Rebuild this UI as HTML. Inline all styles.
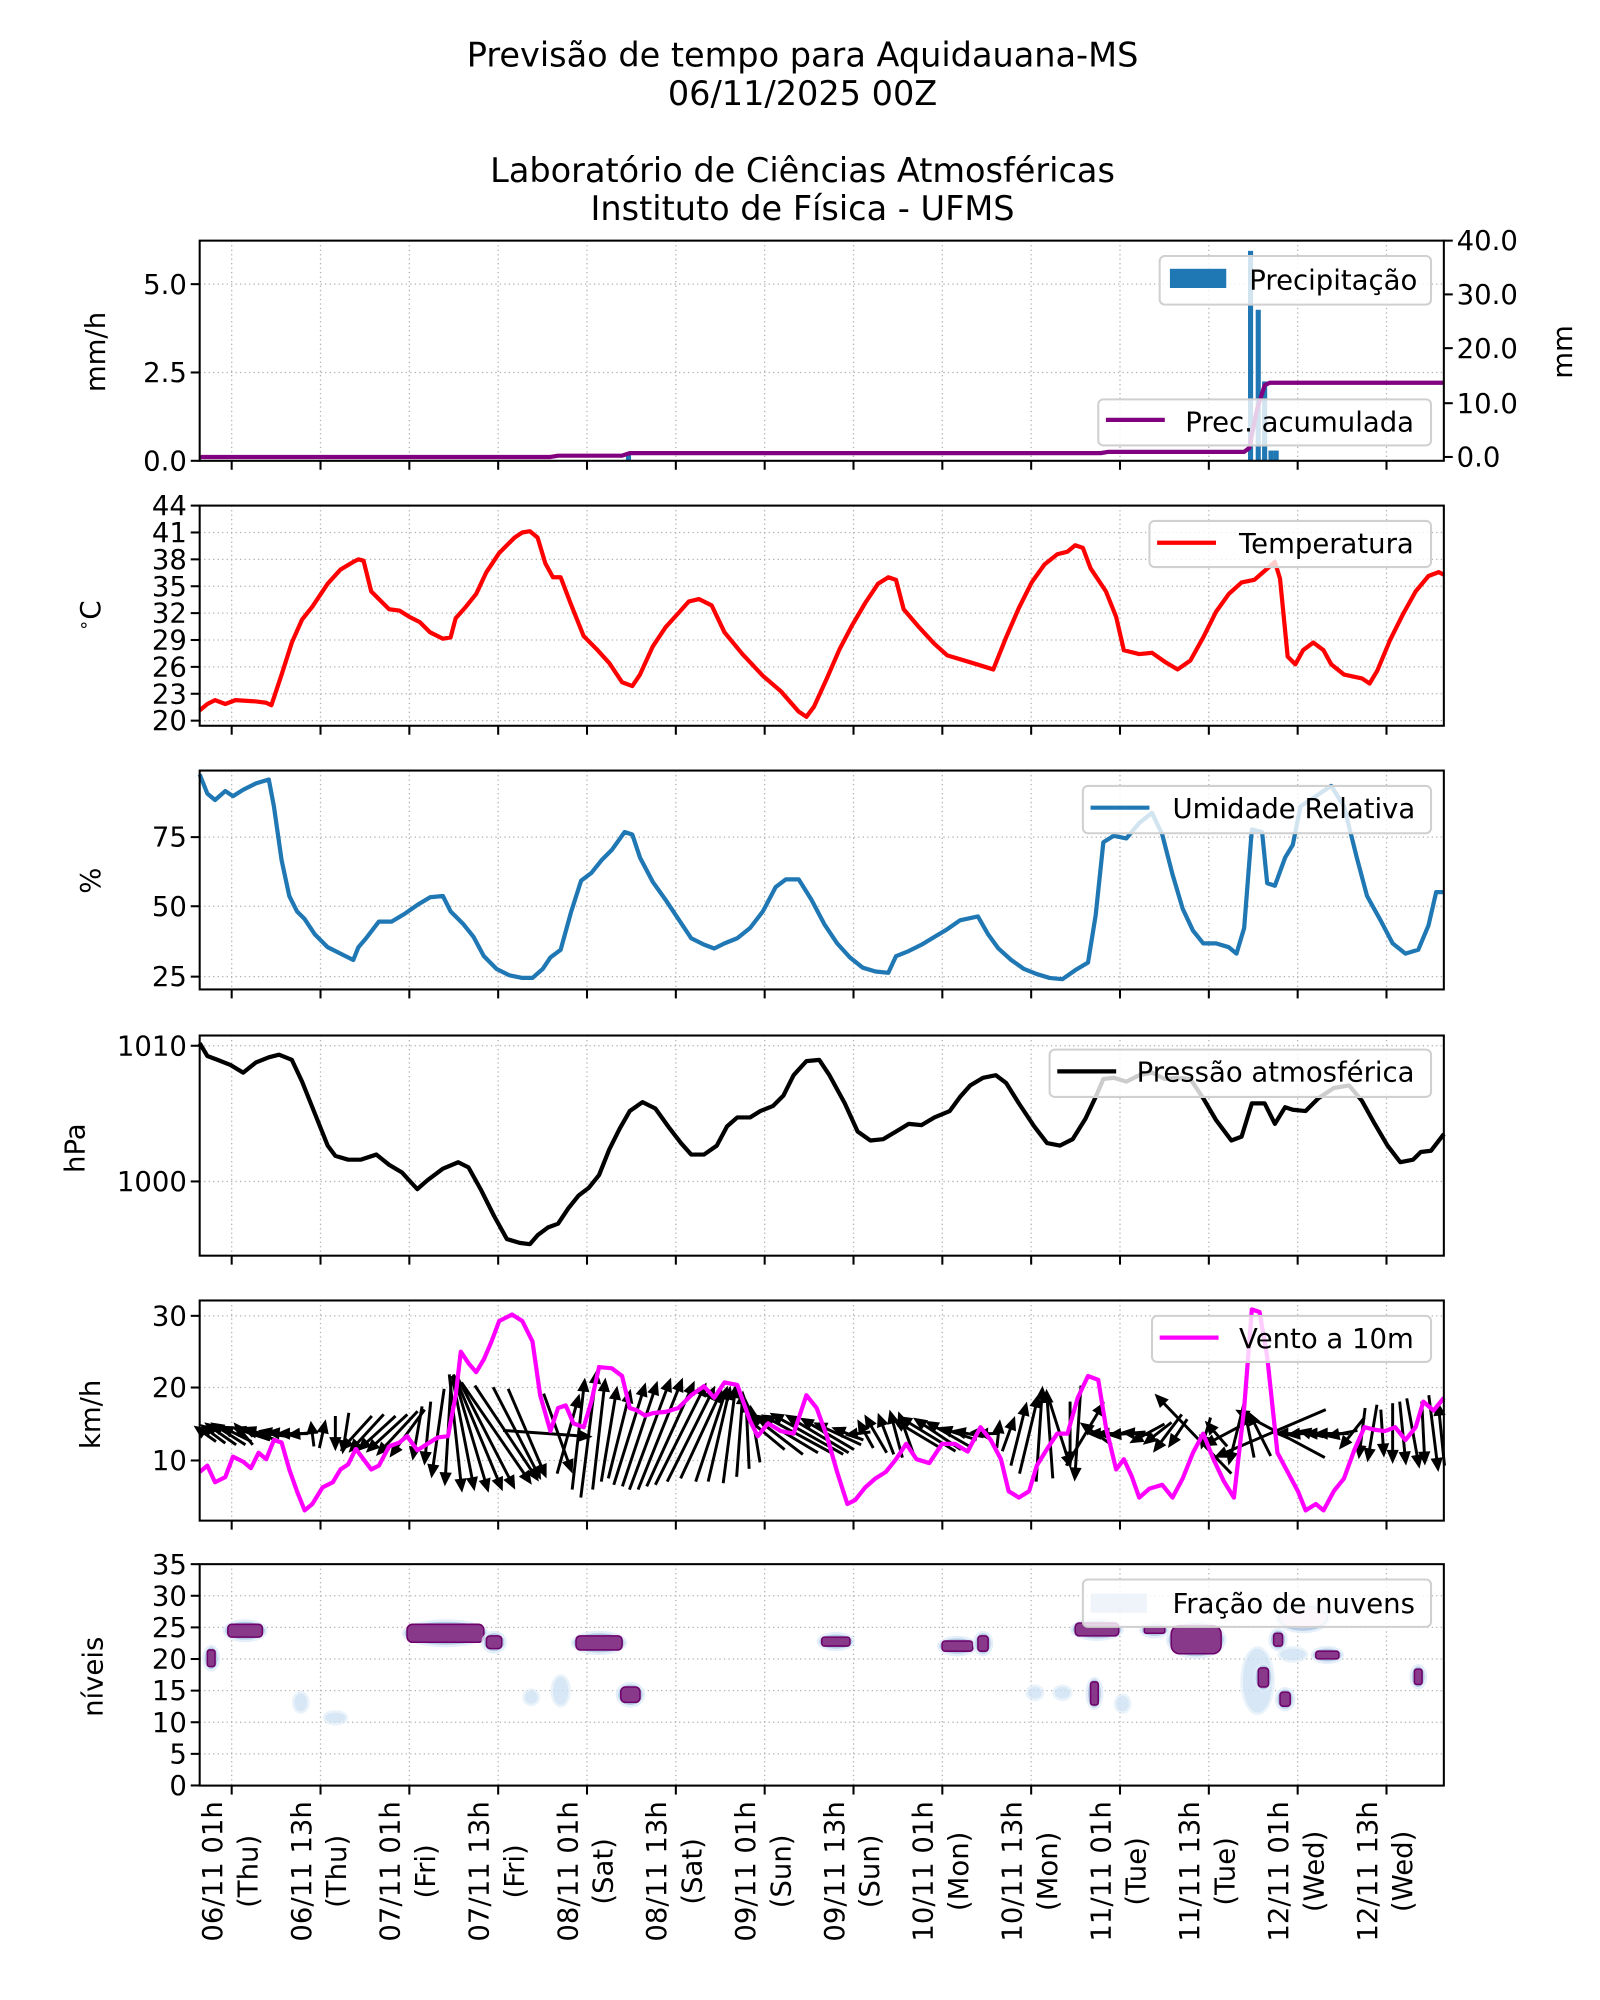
<!DOCTYPE html>
<html><head><meta charset="utf-8"><style>
html,body{margin:0;padding:0;background:#fff}
svg{display:block}
text{font-family:"DejaVu Sans","Liberation Sans",sans-serif;fill:#000}
</style></head><body>
<svg id="s" xmlns="http://www.w3.org/2000/svg" width="1600" height="2000" viewBox="0 0 1250 1562.5">
<rect width="1250" height="1562.5" fill="#fff"/>
<g font-size="26.2" text-anchor="middle">
<text x="627" y="52">Previsão de tempo para Aquidauana-MS</text>
<text x="627" y="82">06/11/2025 00Z</text>
<text x="627" y="142">Laboratório de Ciências Atmosféricas</text>
<text x="627" y="172">Instituto de Física - UFMS</text>
</g>
<g id="grid"></g>
<g id="data"></g>
<g id="axes"></g>
<g id="leg"></g>
<g font-size="21.5" id="lab">
<text transform="translate(82,275) rotate(-90)" text-anchor="middle">mm/h</text>
<text transform="translate(1228,275) rotate(-90)" text-anchor="middle">mm</text>
<text transform="translate(78,481) rotate(-90)" text-anchor="middle"><tspan font-size="14" dy="-8">∘</tspan><tspan dy="8">C</tspan></text>
<text transform="translate(78,688) rotate(-90)" text-anchor="middle">%</text>
<text transform="translate(66,897) rotate(-90)" text-anchor="middle">hPa</text>
<text transform="translate(78,1105) rotate(-90)" text-anchor="middle">km/h</text>
<text transform="translate(80,1310) rotate(-90)" text-anchor="middle">níveis</text>
</g>
<g font-size="21.5" id="xl"></g>
</svg>
<script>
const NS="http://www.w3.org/2000/svg";
function el(p,t,a,txt){const e=document.createElementNS(NS,t);for(const k in a)e.setAttribute(k,a[k]);if(txt!==undefined)e.textContent=txt;document.getElementById(p).appendChild(e);return e;}
const L=156,R=1128;
const panels=[[188,360],[395,567],[602,773],[809,981],[1016,1188],[1222,1395]];
const xt=[];for(let k=0;k<14;k++)xt.push(181+69.4*k);
const yt=[
 [[222,"5.0"],[291,"2.5"],[360,"0.0"]],
 [44,41,38,35,32,29,26,23,20].map(v=>[395+(44-v)*7,""+v]),
 [[654,"75"],[708,"50"],[763,"25"]],
 [[817,"1010"],[923,"1000"]],
 [[1028,"30"],[1084,"20"],[1141,"10"]],
 [35,30,25,20,15,10,5,0].map(v=>[1222+(35-v)*4.94,""+v])
];
panels.forEach((p,i)=>{
 xt.forEach(x=>{el("grid","line",{x1:x,x2:x,y1:p[0],y2:p[1],stroke:"#b0b0b0","stroke-width":1,"stroke-dasharray":"1,2.5"});
   el("axes","line",{x1:x,x2:x,y1:p[1],y2:p[1]+7,stroke:"#000","stroke-width":1.6});});
 yt[i].forEach(t=>{el("grid","line",{x1:L,x2:R,y1:t[0],y2:t[0],stroke:"#b0b0b0","stroke-width":1,"stroke-dasharray":"1,2.5"});
   el("axes","line",{x1:L-7,x2:L,y1:t[0],y2:t[0],stroke:"#000","stroke-width":1.6});
   el("axes","text",{x:L-10,y:t[0]+7.5,"text-anchor":"end","font-size":"21.5"},t[1]);});
 el("axes","rect",{x:L,y:p[0],width:R-L,height:p[1]-p[0],fill:"none",stroke:"#000","stroke-width":1.6});
});
[[357,"0.0"],[315,"10.0"],[272,"20.0"],[230,"30.0"],[188,"40.0"]].forEach(t=>{
 el("axes","line",{x1:R,x2:R+7,y1:t[0],y2:t[0],stroke:"#000","stroke-width":1.6});
 el("axes","text",{x:R+10,y:t[0]+7.5,"font-size":"21.5"},t[1]);});
const lb=[["06/11 01h","(Thu)"],["06/11 13h","(Thu)"],["07/11 01h","(Fri)"],["07/11 13h","(Fri)"],["08/11 01h","(Sat)"],["08/11 13h","(Sat)"],["09/11 01h","(Sun)"],["09/11 13h","(Sun)"],["10/11 01h","(Mon)"],["10/11 13h","(Mon)"],["11/11 01h","(Tue)"],["11/11 13h","(Tue)"],["12/11 01h","(Wed)"],["12/11 13h","(Wed)"]];
xt.forEach((x,k)=>{
 el("xl","text",{transform:`translate(${x-7.5},1462) rotate(-90)`,"text-anchor":"middle"},lb[k][0]);
 el("xl","text",{transform:`translate(${x+20},1462) rotate(-90)`,"text-anchor":"middle"},lb[k][1]);
});
function line(pts,c,w){el("data","polyline",{points:pts.map(p=>p.join(",")).join(" "),fill:"none",stroke:c,"stroke-width":w||3.3,"stroke-linejoin":"round"});}
[[491,355],[977,196],[983,242],[988,298],[993,352],[997,352]].forEach(b=>el("data","rect",{x:b[0]-2,y:b[1],width:4,height:360-b[1],fill:"#1f77b4"}));
line([[156,357],[430,357],[436,356],[486,356],[492,354],[860,354],[866,353],[972,353],[976,350],[982,320],[988,301],[992,299],[1128,299]],"#800080");
line([[156,555],[162,550],[168,547],[176,550],[184,547],[200,548],[208,549],[212,551],[220,527],[228,502],[236,484],[244,474],[256,456],[266,445],[276,439],[280,437],[284,438],[290,462],[298,470],[304,476],[312,477],[320,482],[328,486],[336,494],[346,499],[352,498],[356,483],[364,474],[372,464],[380,447],[390,432],[402,420],[408,416],[414,415],[420,420],[426,440],[432,451],[438,451],[446,472],[456,497],[466,507],[476,518],[486,533],[494,536],[500,527],[510,505],[520,490],[530,479],[538,470],[546,468],[556,473],[566,494],[580,511],[596,528],[610,540],[624,556],[630,560],[636,552],[646,530],[656,507],[666,488],[676,471],[686,456],[694,451],[700,453],[706,476],[718,490],[730,503],[740,512],[760,518],[776,523],[786,498],[796,475],[806,455],[816,441],[826,433],[834,431],[840,426],[846,428],[852,444],[864,462],[872,482],[878,508],[890,511],[900,510],[910,517],[920,523],[930,516],[940,498],[950,478],[960,464],[970,455],[980,453],[988,446],[996,439],[1000,452],[1006,513],[1012,519],[1018,508],[1026,502],[1034,508],[1040,519],[1050,527],[1064,530],[1070,534],[1076,524],[1086,500],[1096,480],[1106,462],[1116,450],[1124,447],[1128,449]],"#ff0000");
line([[156,605],[162,620],[168,625],[176,618],[182,622],[190,617],[200,612],[210,609],[214,630],[220,672],[226,700],[232,712],[238,718],[246,730],[256,740],[266,745],[276,750],[280,740],[286,733],[296,720],[306,720],[316,714],[326,707],[336,701],[346,700],[352,712],[362,722],[370,732],[378,747],[388,757],[398,762],[408,764],[416,764],[424,757],[430,748],[438,742],[446,713],[454,688],[462,682],[470,672],[478,664],[488,650],[494,652],[500,670],[510,689],[520,703],[530,718],[540,733],[550,738],[558,741],[566,737],[576,733],[586,725],[596,712],[606,693],[614,687],[624,687],[634,703],[644,722],[654,737],[664,748],[674,756],[684,759],[694,760],[700,747],[710,743],[720,738],[730,732],[740,726],[750,719],[764,716],[772,730],[780,741],[790,750],[800,757],[810,761],[820,764],[830,765],[840,758],[850,752],[856,715],[862,658],[870,653],[880,655],[890,643],[900,635],[908,652],[916,683],[924,710],[932,727],[940,737],[950,737],[960,740],[966,745],[972,725],[978,648],[986,650],[990,690],[996,692],[1004,670],[1010,660],[1016,630],[1028,622],[1040,614],[1050,630],[1060,670],[1068,700],[1078,718],[1088,737],[1098,745],[1108,742],[1116,723],[1122,697],[1128,697]],"#1f77b4");
line([[156,815],[162,825],[170,828],[180,832],[190,838],[200,830],[210,826],[218,824],[228,828],[236,845],[246,870],[256,895],[262,903],[272,906],[282,906],[294,902],[304,910],[314,916],[326,929],[334,922],[346,913],[358,908],[366,912],[376,930],[386,950],[396,968],[406,971],[414,972],[420,965],[428,959],[436,956],[444,944],[452,934],[460,928],[468,918],[476,898],[484,882],[492,868],[502,861],[512,866],[522,880],[532,893],[540,902],[550,902],[560,895],[568,880],[576,873],[586,873],[594,868],[604,864],[612,856],[620,840],[630,829],[640,828],[648,840],[660,862],[670,884],[680,891],[690,890],[700,884],[710,878],[720,879],[730,873],[742,868],[750,857],[758,848],[768,842],[778,840],[786,846],[796,862],[808,880],[818,893],[828,895],[838,890],[848,874],[856,857],[862,843],[870,842],[880,845],[890,840],[900,838],[910,843],[920,842],[930,843],[940,858],[950,875],[962,891],[970,888],[978,862],[988,862],[996,878],[1004,865],[1010,867],[1020,868],[1030,858],[1042,850],[1054,848],[1064,860],[1074,878],[1084,895],[1094,908],[1104,906],[1110,900],[1118,899],[1128,886]],"#000");
const A=[[160,-14,-10],[166,-16,-12],[172,-20,-14],[178,-22,-14],[184,-20,-10],[190,-12,-14],[196,-24,-8],[202,-22,-8],[208,-30,-4],[214,-20,-4],[220,-20,-2],[228,-20,0],[236,-20,2],[244,-2,-16],[252,4,-18],[262,0,22],[270,-4,26],[278,-20,22],[286,-22,24],[294,-24,22],[302,-26,24],[310,-26,28],[318,-22,30],[326,-6,34],[334,-4,40],[342,-8,56],[350,-4,66],[356,8,74],[362,14,72],[368,22,74],[374,30,72],[380,36,70],[388,44,64],[396,40,60],[404,30,58],[412,24,56],[428,56,4],[436,18,50],[444,14,-50],[452,8,-70],[460,10,-80],[468,8,-70],[476,10,-60],[484,14,-56],[492,20,-64],[500,22,-66],[508,26,-70],[516,28,-70],[524,30,-66],[532,32,-64],[540,30,-60],[548,26,-56],[556,20,-60],[562,14,-60],[570,8,-62],[578,4,-54],[584,-2,-44],[590,-6,-36],[598,-24,-20],[606,-34,-26],[614,-40,-24],[622,-44,-24],[630,-46,-26],[638,-40,-24],[646,-34,-20],[654,-30,-14],[662,-20,-8],[670,-16,2],[676,-10,-18],[684,-14,-24],[692,-10,-26],[700,-8,-30],[708,-10,-28],[716,-30,-18],[724,-36,-22],[732,-30,-20],[740,-28,-16],[748,-24,-8],[756,-20,-4],[764,-10,-2],[772,-14,0],[780,2,-18],[788,8,-22],[796,10,-40],[804,12,-50],[812,4,-60],[820,-4,-56],[828,14,44],[836,0,40],[842,-4,60],[848,24,-40],[856,-20,-14],[864,-24,0],[872,-26,0],[880,-24,2],[888,-20,-2],[896,-22,12],[904,-18,14],[912,-18,24],[920,-12,18],[932,-48,-50],[942,-6,20],[950,-14,-16],[958,-30,16],[966,-10,40],[976,-6,-30],[984,-14,-28],[992,-70,30],[1000,-56,-30],[1008,-20,0],[1016,-18,2],[1024,-16,-4],[1032,-22,0],[1040,-22,0],[1048,-20,4],[1056,-16,20],[1064,-4,32],[1072,-6,36],[1080,2,30],[1088,0,38],[1096,4,40],[1104,8,44],[1112,2,40],[1120,6,48],[1126,-4,-40]];
A.forEach(a=>{const cx=a[0],cy=1120,dx=a[1]*1.25,dy=a[2]*1.25;const len=Math.hypot(dx,dy);if(len<1)return;
 const ux=dx/len,uy=dy/len,x1=cx-dx/2,y1=cy-dy/2,x2=cx+dx/2,y2=cy+dy/2;const hl=Math.min(11,len*0.5),hw=4.8;
 el("data","line",{x1:x1,y1:y1,x2:x2-ux*hl*0.8,y2:y2-uy*hl*0.8,stroke:"#000","stroke-width":2.3});
 const bx=x2-ux*hl,by=y2-uy*hl;
 el("data","polygon",{points:`${x2},${y2} ${bx-uy*hw},${by+ux*hw} ${bx+uy*hw},${by-ux*hw}`,fill:"#000"});});
line([[156,1150],[162,1145],[168,1158],[176,1154],[182,1138],[190,1142],[196,1147],[202,1135],[208,1140],[214,1125],[220,1127],[226,1148],[232,1165],[238,1180],[244,1175],[252,1162],[260,1158],[266,1148],[272,1144],[278,1132],[284,1140],[290,1148],[296,1145],[304,1130],[312,1127],[318,1122],[326,1133],[334,1128],[342,1123],[350,1122],[356,1090],[360,1056],[366,1065],[372,1072],[378,1062],[384,1048],[390,1032],[400,1027],[408,1032],[416,1048],[422,1090],[430,1118],[436,1100],[442,1098],[448,1112],[456,1115],[462,1095],[468,1068],[478,1069],[486,1075],[492,1100],[498,1102],[504,1106],[510,1104],[520,1103],[530,1100],[540,1090],[550,1083],[558,1092],[566,1080],[576,1082],[586,1110],[592,1122],[600,1112],[610,1118],[620,1120],[630,1090],[638,1100],[646,1122],[654,1150],[662,1175],[668,1172],[676,1162],[684,1155],[692,1150],[700,1140],[708,1128],[716,1140],[726,1143],[736,1128],[746,1128],[756,1134],[766,1115],[774,1125],[782,1140],[788,1165],[796,1170],[804,1165],[810,1145],[818,1132],[826,1120],[834,1120],[842,1092],[850,1075],[858,1078],[864,1115],[872,1148],[878,1140],[884,1153],[890,1170],[898,1163],[908,1160],[916,1170],[924,1155],[932,1135],[940,1120],[948,1140],[956,1157],[964,1170],[972,1100],[978,1023],[984,1025],[990,1060],[998,1135],[1006,1150],[1014,1165],[1020,1180],[1028,1175],[1034,1180],[1042,1165],[1050,1155],[1058,1133],[1066,1115],[1074,1117],[1082,1118],[1090,1115],[1098,1125],[1106,1115],[1112,1095],[1120,1102],[1128,1092]],"#ff00ff");
const C=[[178,205,1269,1279,"p"],[162,168,1289,1302,"p"],[318,378,1269,1283,"p"],[380,392,1278,1288,"p"],[450,486,1278,1289,"p"],[485,500,1318,1330,"p"],[232,238,1325,1335,"l"],[256,268,1340,1344,"l"],[412,418,1323,1329,"l"],[434,442,1312,1330,"l"],[642,664,1279,1286,"p"],[736,760,1282,1290,"p"],[764,772,1278,1290,"p"],[840,874,1268,1278,"p"],[894,910,1271,1276,"p"],[915,954,1270,1292,"p"],[1000,1036,1256,1272,"k"],[995,1002,1276,1286,"p"],[1002,1018,1290,1295,"l"],[1028,1046,1290,1296,"p"],[973,992,1290,1336,"l"],[983,991,1303,1318,"p"],[1000,1008,1322,1333,"p"],[1105,1111,1304,1316,"p"],[852,858,1314,1332,"p"],[805,812,1320,1325,"l"],[826,834,1320,1325,"l"],[874,880,1327,1335,"l"]];
C.forEach(c=>{const cx=(c[0]+c[1])/2,cy=(c[2]+c[3])/2,rx=(c[1]-c[0])/2,ry=(c[3]-c[2])/2;
 const light=c[4]=="l";
 el("data","ellipse",{cx:cx,cy:cy,rx:rx+4,ry:ry+4,fill:"#deebf7",opacity:light?0.6:0.8});
 el("data","ellipse",{cx:cx,cy:cy,rx:rx+2,ry:ry+2,fill:light?"#c6dbef":"#9ebcda",opacity:light?0.5:0.7});
 if(c[4]=="p")el("data","rect",{x:c[0],y:c[2],width:c[1]-c[0],height:c[3]-c[2],rx:Math.min(rx,ry)*0.6,fill:"#88398a",stroke:"#6e016b","stroke-width":1.2});
 if(c[4]=="k")el("data","ellipse",{cx:cx,cy:cy,rx:rx,ry:ry,fill:"#f1d4ea"});
});
function box(x1,y1,x2,y2){el("leg","rect",{x:x1,y:y1,width:x2-x1,height:y2-y1,rx:4,fill:"#fff","fill-opacity":0.8,stroke:"#d0d0d0","stroke-width":1.6});}
function txt(x,y,s){el("leg","text",{x:x,y:y,"font-size":"21.5"},s);}
box(906,200,1118,238);el("leg","rect",{x:914,y:210,width:44,height:15,fill:"#1f77b4"});txt(976,226,"Precipitação");
box(858,312,1118,348);el("leg","line",{x1:864,x2:910,y1:328,y2:328,stroke:"#800080","stroke-width":3.3});txt(926,337,"Prec. acumulada");
box(898,407,1118,443);el("leg","line",{x1:904,x2:950,y1:424,y2:424,stroke:"#ff0000","stroke-width":3.3});txt(968,432,"Temperatura");
box(846,614,1118,651);el("leg","line",{x1:852,x2:898,y1:631,y2:631,stroke:"#1f77b4","stroke-width":3.3});txt(916,639,"Umidade Relativa");
box(820,820,1118,857);el("leg","line",{x1:826,x2:872,y1:837,y2:837,stroke:"#000","stroke-width":3.3});txt(888,845,"Pressão atmosférica");
box(900,1028,1118,1064);el("leg","line",{x1:906,x2:952,y1:1045,y2:1045,stroke:"#ff00ff","stroke-width":3.3});txt(968,1053,"Vento a 10m");
box(846,1234,1118,1271);el("leg","rect",{x:852,y:1245,width:44,height:15,fill:"#eef4fa"});txt(916,1260,"Fração de nuvens");
</script>
</body></html>
